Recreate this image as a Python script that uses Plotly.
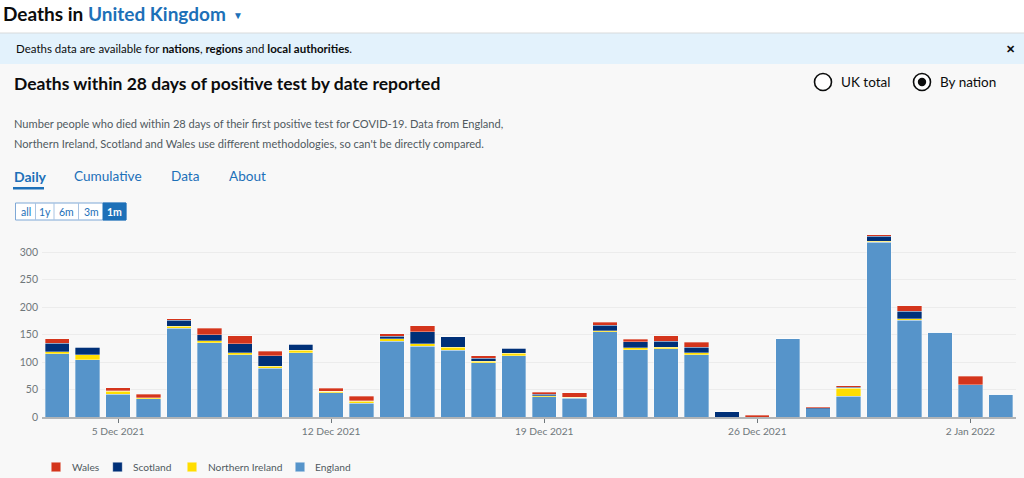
import plotly.graph_objects as go

# ---- data ----
dates = ["2021-12-03", "2021-12-04", "2021-12-05", "2021-12-06", "2021-12-07", "2021-12-08",
         "2021-12-09", "2021-12-10", "2021-12-11", "2021-12-12", "2021-12-13", "2021-12-14",
         "2021-12-15", "2021-12-16", "2021-12-17", "2021-12-18", "2021-12-19", "2021-12-20",
         "2021-12-21", "2021-12-22", "2021-12-23", "2021-12-24", "2021-12-25", "2021-12-26",
         "2021-12-27", "2021-12-28", "2021-12-29", "2021-12-30", "2021-12-31", "2022-01-01",
         "2022-01-02", "2022-01-03"]
england = [115, 104, 41, 33, 161, 135, 113, 89, 117, 44, 25, 138, 129, 121, 99, 111, 37, 34,
           155, 122, 124, 113, 0, 0, 142, 15, 38, 318, 176, 154, 59, 41]
northern_ireland = [4, 9, 6, 2, 4, 4, 4, 3, 4, 3, 4, 4, 4, 6, 2, 5, 2, 2,
                    2, 4, 3, 4, 0, 0, 0, 0, 14, 2, 3, 0, 0, 0]
scotland = [15, 14, 1, 0, 11, 11, 16, 19, 11, 0, 1, 5, 22, 19, 6, 9, 2, 0,
            10, 11, 11, 10, 10, 0, 0, 2, 2, 9, 13, 0, 0, 0]
wales = [8, 0, 5, 6, 3, 11, 15, 9, 0, 5, 8, 4, 11, 0, 4, 0, 4, 8,
         5, 4, 10, 9, 0, 3, 0, 2, 3, 2, 10, 0, 15, 0]
tick_dates = ["2021-12-05", "2021-12-12", "2021-12-19", "2021-12-26", "2022-01-02"]
tick_labels = ["5 Dec 2021", "12 Dec 2021", "19 Dec 2021", "26 Dec 2021", "2 Jan 2022"]
y_ticks = [0, 50, 100, 150, 200, 250, 300]

FONT = "Lato"
BLUE = "#1d70b8"
DARK = "#0b0c0c"
GREY = "#505a5f"

W, H = 1024, 478
ML, MR, MT, MB = 42, 8, 230, 61
PW = W - ML - MR
PH = H - MT - MB


def px(x):
    return (x - ML) / PW


def py(y):
    return (H - MB - y) / PH


fig = go.Figure()
series = [("England", england, "#5694ca"),
          ("Northern Ireland", northern_ireland, "#ffdd00"),
          ("Scotland", scotland, "#003078"),
          ("Wales", wales, "#d4351c")]
for name, vals, col in series:
    fig.add_trace(go.Bar(x=dates, y=vals, name=name, showlegend=False,
                         marker=dict(color=col, line=dict(color="rgba(255,255,255,0.55)", width=0.6)),
                         hoverinfo="skip"))

shapes = []
annotations = []

# header and banner backgrounds
shapes.append(dict(type="rect", xref="paper", yref="paper", x0=px(0), x1=px(W), y0=py(33), y1=py(0),
                   fillcolor="#ffffff", line=dict(width=0), layer="below"))
shapes.append(dict(type="rect", xref="paper", yref="paper", x0=px(0), x1=px(W), y0=py(64), y1=py(33),
                   fillcolor="#e3f2fc", line=dict(width=0), layer="below"))
shapes.append(dict(type="line", xref="paper", yref="paper", x0=px(0), x1=px(W), y0=py(33), y1=py(33),
                   line=dict(color="#d8dadb", width=1)))


def text(x, y, s, size, color=DARK, anchor="left", family=FONT):
    annotations.append(dict(xref="paper", yref="paper", x=px(x), y=py(y), text=s, showarrow=False,
                            xanchor=anchor, yanchor="middle", font=dict(family=family, size=size, color=color)))


text(1, 14, "<b>Deaths in </b><b><span style='color:%s'>United Kingdom</span></b>" % BLUE, 19)
text(231, 15, "▼", 10, BLUE)
text(14, 48, "Deaths data are available for <b>nations</b>, <b>regions</b> and <b>local authorities</b>.", 11.5)
text(1010, 48, "<b>✕</b>", 11, DARK, "center")
text(12, 83, "<b>Deaths within 28 days of positive test by date reported</b>", 17.5)

# radio buttons
for cx in (823, 922):
    shapes.append(dict(type="circle", xref="paper", yref="paper", x0=px(cx - 8.5), x1=px(cx + 8.5),
                       y0=py(82 + 8.5), y1=py(82 - 8.5), line=dict(color=DARK, width=1.6),
                       fillcolor="#ffffff"))
shapes.append(dict(type="circle", xref="paper", yref="paper", x0=px(922 - 4.2), x1=px(922 + 4.2),
                   y0=py(82 + 4.2), y1=py(82 - 4.2), line=dict(color=DARK, width=0), fillcolor=DARK))
text(839, 82, "UK total", 13.5)
text(938, 82, "By nation", 13.5)

text(12, 124, "Number people who died within 28 days of their first positive test for COVID-19. Data from England,",
     11.1, GREY)
text(12, 143, "Northern Ireland, Scotland and Wales use different methodologies, so can't be directly compared.",
     11.1, GREY)

# tabs
text(12, 176, "<b>Daily</b>", 14, BLUE)
text(72, 176, "Cumulative", 13.6, BLUE)
text(169, 176, "Data", 13.6, BLUE)
text(227, 176, "About", 13.6, BLUE)
shapes.append(dict(type="rect", xref="paper", yref="paper", x0=px(13), x1=px(44), y0=py(189.5), y1=py(187),
                   fillcolor=BLUE, line=dict(width=0)))

# range buttons
shapes.append(dict(type="rect", xref="paper", yref="paper", x0=px(15.5), x1=px(126), y0=py(220), y1=py(203),
                   fillcolor="#ffffff", line=dict(color="#7fa8d6", width=1)))
shapes.append(dict(type="rect", xref="paper", yref="paper", x0=px(103), x1=px(126), y0=py(220), y1=py(203),
                   fillcolor=BLUE, line=dict(color=BLUE, width=1)))
for dx in (35.5, 54, 78.5):
    shapes.append(dict(type="line", xref="paper", yref="paper", x0=px(dx), x1=px(dx), y0=py(220), y1=py(203),
                       line=dict(color="#a9c4e3", width=1)))
for cx, lab in ((25.5, "all"), (45, "1y"), (66, "6m"), (91, "3m")):
    text(cx, 211.5, lab, 10.5, BLUE, "center")
text(114.5, 211.5, "<b>1m</b>", 10.5, "#ffffff", "center")

# legend (drawn from the series names/colours)
legend_pos = {"Wales": (56, 71), "Scotland": (117.5, 132), "Northern Ireland": (192, 207), "England": (300, 314)}
for name, vals, col in series:
    sx, tx = legend_pos[name]
    shapes.append(dict(type="rect", xref="paper", yref="paper", x0=px(sx - 4.7), x1=px(sx + 4.7),
                       y0=py(467 + 4.7), y1=py(467 - 4.7), fillcolor=col,
                       line=dict(color="rgba(255,255,255,0.5)", width=0.6)))
    text(tx - 1, 467, name, 10.2, "#505a5f")

fig.update_layout(
    width=W, height=H,
    margin=dict(l=ML, r=MR, t=MT, b=MB, pad=0, autoexpand=False),
    paper_bgcolor="#f8f8f8", plot_bgcolor="#f8f8f8",
    barmode="stack", bargap=0.2,
    font=dict(family=FONT, color="#6f777b", size=11),
    showlegend=False,
    xaxis=dict(type="date", range=["2021-12-02 12:00", "2022-01-03 12:00"],
               tickvals=tick_dates, ticktext=tick_labels, ticks="outside", ticklen=4,
               tickcolor="#6f777b", tickwidth=1, showgrid=False, showline=True,
               linecolor="#b1b4b6", linewidth=2, zeroline=False,
               tickfont=dict(family=FONT, size=10.2, color="#6f777b")),
    yaxis=dict(range=[0, 340], tickvals=y_ticks, showgrid=True, gridcolor="#ececec", gridwidth=1,
               zeroline=False, showline=False, ticks="", ticklabelstandoff=3,
               tickfont=dict(family=FONT, size=10.5, color="#6f777b")),
    shapes=shapes, annotations=annotations,
)

fig.write_html("out.html", config={"displayModeBar": False})
